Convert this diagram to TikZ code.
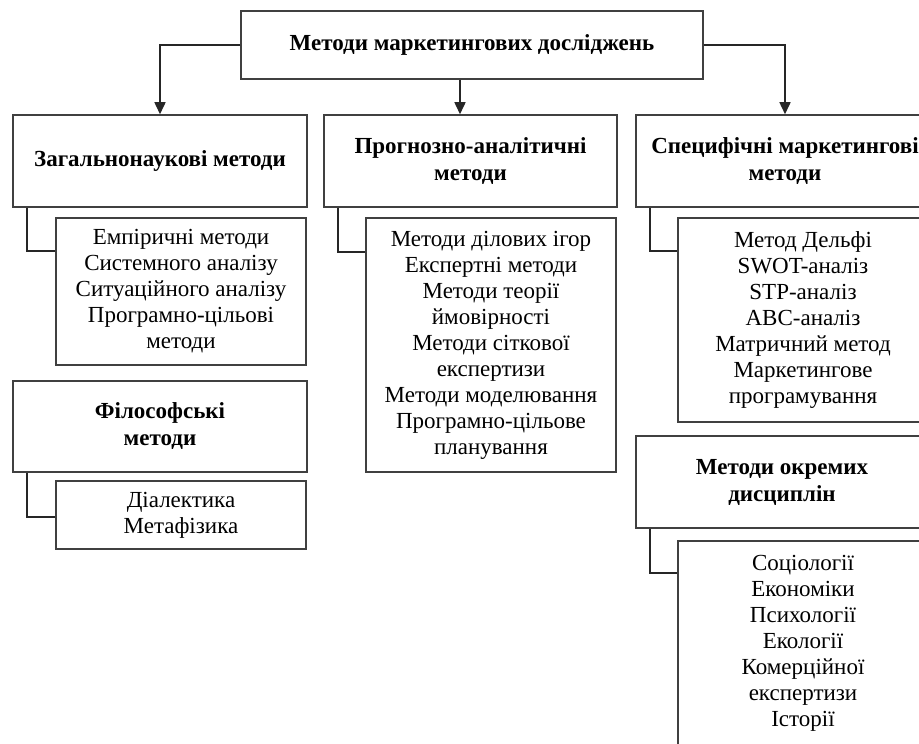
\documentclass[tikz,border=0pt]{standalone}
\usepackage{fontspec}
\setmainfont{Liberation Serif}
\usetikzlibrary{arrows.meta, calc}

\tikzset{
  hd/.style={draw=black!75, line width=0.75pt, align=center, inner sep=0pt,
    font=\fontsize{11.5}{13.5}\selectfont\bfseries},
  lst/.style={draw=black!75, line width=0.75pt, align=center, inner sep=0pt,
    font=\fontsize{11.5}{13}\selectfont},
  arr/.style={draw=black!85, line width=0.75pt, -{Triangle[length=6pt,width=5.5pt]}},
  lnk/.style={draw=black!85, line width=0.8pt}
}

\begin{document}
\begin{tikzpicture}[x=0.5pt,y=-0.5pt]
\useasboundingbox (0,0) rectangle (919,743);
\clip (0,0) rectangle (919,743);

% root
\node[hd, minimum width=231pt, minimum height=34pt] (root) at (472,45) {Методи маркетингових досліджень};

% groups
\node[hd, minimum width=147pt, minimum height=46pt] (gen) at (160,161) {Загальнонаукові методи};
\node[hd, minimum width=146.5pt, minimum height=46pt] (prog) at (470.5,161) {Прогнозно-аналітичні\\методи};
\node[hd, minimum width=149pt, minimum height=46pt] (spec) at (785,161) {Специфічні маркетингові\\методи};
\node[hd, minimum width=147pt, minimum height=45.5pt] (phil) at (160,426.5) {Філософські\\методи};
\node[hd, minimum width=146pt, minimum height=46pt] (disc) at (782,482) {Методи окремих\\дисциплін};

% lists
\node[lst, minimum width=125pt, minimum height=73.5pt] (genlist) at (181,291.5)
  {Емпіричні методи\\Системного аналізу\\Ситуаційного аналізу\\Програмно-цільові\\методи};
\node[lst, minimum width=125pt, minimum height=127pt] (proglist) at (491,345)
  {Методи ділових ігор\\Експертні методи\\Методи теорії\\ймовірності\\Методи сіткової\\експертизи\\Методи моделювання\\Програмно-цільове\\планування};
\node[lst, minimum width=125pt, minimum height=102pt] (speclist) at (803,320)
  {Метод Дельфі\\SWOT-аналіз\\STP-аналіз\\ABC-аналіз\\Матричний метод\\Маркетингове\\програмування};
\node[lst, minimum width=125pt, minimum height=34pt] (phillist) at (181,515)
  {Діалектика\\Метафізика};
\node[lst, minimum width=125pt, minimum height=102pt] (disclist) at (803,643)
  {Соціології\\Економіки\\Психології\\Екології\\Комерційної\\експертизи\\Історії};

% arrows from the root
\coordinate (midx) at (460,97);
\draw[arr] (root.west) -| (gen.north);
\draw[arr] (root.south -| midx) -- (prog.north -| midx);
\draw[arr] (root.east) -| (spec.north);

% links to the lists
\draw[lnk] ($(gen.south west)+(15,0)$) |- ($(genlist.north west)+(0,34)$);
\draw[lnk] ($(prog.south west)+(15,0)$) |- ($(proglist.north west)+(0,35)$);
\draw[lnk] ($(spec.south west)+(15,0)$) |- ($(speclist.north west)+(0,34)$);
\draw[lnk] ($(phil.south west)+(15,0)$) |- ($(phillist.north west)+(0,37)$);
\draw[lnk] ($(disc.south west)+(15,0)$) |- ($(disclist.north west)+(0,33)$);

\end{tikzpicture}
\end{document}
